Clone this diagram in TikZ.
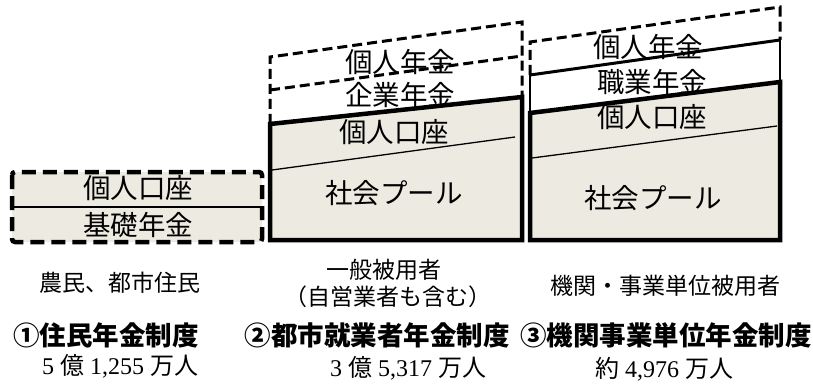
\documentclass[tikz,border=0pt]{standalone}
\usepackage{fontspec}
\setmainfont{Liberation Serif}
\newfontfamily\jp{Noto Sans CJK JP}
\definecolor{beige}{RGB}{237,235,225}
\tikzset{
  boxtxt/.style={font=\jp\fontsize{27.5}{30}\selectfont, inner sep=0pt, anchor=center},
  smalltxt/.style={font=\jp\fontsize{23}{26}\selectfont, inner sep=0pt, anchor=center},
  numtxt/.style={font=\fontsize{24}{26}\selectfont, inner sep=0pt, anchor=center},
  headtxt/.style={font=\jp\bfseries\fontsize{26.5}{30}\selectfont, inner sep=0pt, anchor=center},
  bigdash/.style={line width=4.5pt, dash pattern=on 14pt off 7pt},
  smalldash/.style={line width=3pt, dash pattern=on 10pt off 5pt},
  frame/.style={line width=4.5pt, line join=miter},
  thinline/.style={line width=1.3pt},
}
\begin{document}
\begin{tikzpicture}[x=1pt,y=-1pt]
\useasboundingbox (0,0) rectangle (813,385);

% Box 1
\fill[beige, rounded corners=3pt] (12,172) rectangle (262,242);
\draw[thinline] (12,207) -- (262,207);
\draw[bigdash, rounded corners=3pt] (12,172) rectangle (262,242);
\node[boxtxt] (b1a) at (138,188) {個人口座};
\node[boxtxt] (b1b) at (138,225) {基礎年金};

% Box 2
\draw[smalldash] (270,124) -- (270,57) -- (522,22) -- (522,97);
\draw[smalldash] (270,90) -- (522,56);
\filldraw[frame, fill=beige] (270,124) -- (522,97) -- (522,240) -- (270,240) -- cycle;
\draw[thinline] (272,170) -- (515,137);
\node[boxtxt] (b2a) at (400,62) {個人年金};
\node[boxtxt] (b2b) at (400,95) {企業年金};
\node[boxtxt] (b2c) at (394,132) {個人口座};
\node[boxtxt] (b2d) at (394,193) {社会プール};

% Box 3
\draw[smalldash] (530,75) -- (530,42) -- (780,7) -- (780,40);
\draw[line width=2pt] (530,113) -- (530,75);
\draw[line width=2pt] (780,82) -- (780,40);
\draw[line width=3pt] (530,75) -- (780,40);
\filldraw[frame, fill=beige] (530,113) -- (780,82) -- (780,240) -- (530,240) -- cycle;
\draw[thinline] (532,158) -- (777,126);
\node[boxtxt] (b3a) at (648,47) {個人年金};
\node[boxtxt] (b3b) at (652,82) {職業年金};
\node[boxtxt] (b3c) at (652,117) {個人口座};
\node[boxtxt] (b3d) at (653,198) {社会プール};

% Bottom labels
\node[smalltxt] (l1) at (120,283) {農民、都市住民};
\node[smalltxt] (l2a) at (384,270) {一般被用者};
\node[smalltxt] (l2b) at (388,297) {（自営業者も含む）};
\node[smalltxt] (l3) at (665,286) {機関・事業単位被用者};

\node[headtxt] (h1) at (106,335) {①住民年金制度};
\node[headtxt] (h2) at (377,335) {②都市就業者年金制度};
\node[headtxt] (h3) at (666,335) {③機関事業単位年金制度};

\node[numtxt] (n1) at (120,366) {5 {\jp 億} 1,255 {\jp 万人}};
\node[numtxt] (n2) at (408,368) {3 {\jp 億} 5,317 {\jp 万人}};
\node[numtxt] (n3) at (664,369) {{\jp 約} 4,976 {\jp 万人}};
\end{tikzpicture}
\end{document}
